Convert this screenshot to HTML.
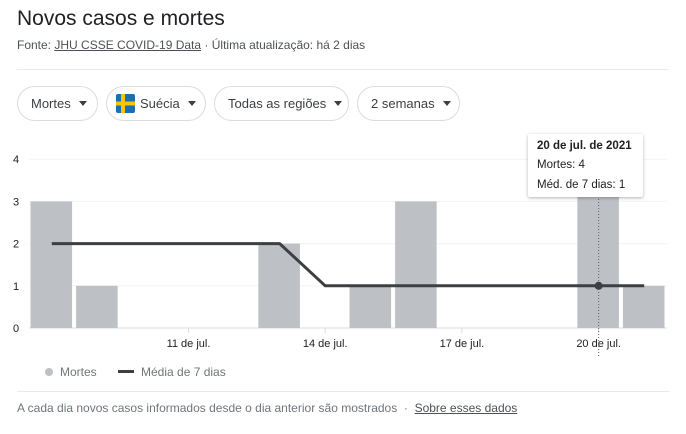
<!DOCTYPE html>
<html><head><meta charset="utf-8"><style>
body{margin:0;width:686px;height:434px;background:#fff;font-family:"Liberation Sans",Arial,sans-serif;position:relative;overflow:hidden;color:#202124}
.abs{position:absolute}
.chip{position:absolute;top:86px;border:1px solid #dadce0;border-radius:18px;font-size:13px;color:#3c4043;box-sizing:border-box;height:35px;display:flex;align-items:center;padding-left:13px}
.car{display:inline-block;width:0;height:0;border-left:4.5px solid transparent;border-right:4.5px solid transparent;border-top:5px solid #3c4043;margin-left:8px}
.hr{position:absolute;left:17px;width:652px;height:1px;background:#e8eaed}
</style></head><body>
<div class="abs" style="left:17px;top:7px;font-size:21px;color:#202124">Novos casos e mortes</div>
<div class="abs" style="left:17px;top:38px;font-size:12px;color:#4d5156">Fonte: <span style="text-decoration:underline;color:#4d5156">JHU CSSE COVID-19 Data</span> · Última atualização: há 2 dias</div>
<div class="hr" style="top:69px"></div>
<div class="chip" style="left:17px;width:81px">Mortes<span class="car"></span></div>
<div class="chip" style="left:106px;width:100px;padding-left:9px"><svg width="19" height="19" style="margin-right:5px"><rect width="19" height="19" rx="2" fill="#1a6fb5"/><rect x="5" width="4" height="19" fill="#f7c600"/><rect y="7.5" width="19" height="4" fill="#f7c600"/></svg>Suécia<span class="car"></span></div>
<div class="chip" style="left:214px;width:135px">Todas as regiões<span class="car"></span></div>
<div class="chip" style="left:357px;width:103px">2 semanas<span class="car"></span></div>
<svg id="chart" class="abs" style="left:0;top:0" width="686" height="434"></svg>
<div class="abs" style="left:528px;top:134px;width:115px;height:63px;background:#fff;box-shadow:0 1px 3px rgba(0,0,0,.3);border-radius:2px;font-size:11.5px;color:#202124">
<div style="position:absolute;left:9px;top:6px;font-weight:bold">20 de jul. de 2021</div>
<div style="position:absolute;left:9px;top:25px">Mortes: 4</div>
<div style="position:absolute;left:9px;top:45px">Méd. de 7 dias: 1</div>
</div>
<div class="abs" style="left:45px;top:365px;font-size:12px;color:#70757a"><span style="display:inline-block;width:8px;height:8px;border-radius:50%;background:#bdc1c6;margin-right:7px"></span>Mortes</div>
<div class="abs" style="left:118px;top:365px;font-size:12px;color:#70757a"><span style="display:inline-block;width:16px;height:3px;background:#3c4043;vertical-align:middle;margin-right:7px;position:relative;top:-1px"></span>Média de 7 dias</div>
<div class="hr" style="top:391px"></div>
<div class="abs" style="left:17px;top:401px;font-size:12px;color:#70757a">A cada dia novos casos informados desde o dia anterior são mostrados &nbsp;·&nbsp; <span style="text-decoration:underline;color:#4d5156">Sobre esses dados</span></div>
<script>
const days=[8,9,10,11,12,13,14,15,16,17,18,19,20,21];
const deaths=[3,1,0,0,0,2,0,1,3,0,0,0,4,1];
const avg7=[2,2,2,2,2,2,1,1,1,1,1,1,1,1];
const yTicks=[0,1,2,3,4];
const xTickDays=[11,14,17,20];
const xTickLabels=["11 de jul.","14 de jul.","17 de jul.","20 de jul."];
const NS="http://www.w3.org/2000/svg";
const svg=document.getElementById('chart');
const x0=29,x1=667,y0=328,unit=42.2;
const slot=(x1-x0)/days.length;
const xc=d=>x0+(days.indexOf(d)+0.5)*slot;
const y=v=>y0-v*unit;
function mk(t,a){const e=document.createElementNS(NS,t);for(const k in a)e.setAttribute(k,a[k]);svg.appendChild(e);return e;}
yTicks.forEach(v=>{
 const l=mk('line',{x1:x0,x2:x1,y1:y(v),y2:y(v),stroke:v===0?'#dadce0':'#f1f3f4','stroke-width':1});
 
 
 const t=mk('text',{x:16,y:y(v)+4,'font-size':11,fill:'#202124','text-anchor':'middle'});
 t.textContent=v;
 
 
});
days.forEach((d,i)=>{
 if(!deaths[i])return;
 const r=mk('rect',{x:xc(d)-slot/2+1.5,y:y(deaths[i]),width:slot-4,height:deaths[i]*unit,fill:'#bdc1c6'});
 
 
});
xTickDays.forEach((d,i)=>{
 const l=mk('line',{x1:xc(d),x2:xc(d),y1:y0,y2:y0+5,stroke:'#dadce0'});
 
 
 const t=mk('text',{x:xc(d),y:y0+19,'font-size':11,fill:'#202124','text-anchor':'middle'});
 t.textContent=xTickLabels[i];
 
 
});
const p=mk('polyline',{points:days.map((d,i)=>xc(d)+','+y(avg7[i])).join(' '),fill:'none',stroke:'#3c4043','stroke-width':3});


const hd=20,hi=days.indexOf(hd);
const vl=mk('line',{x1:xc(hd),x2:xc(hd),y1:190,y2:357,stroke:'#5f6368','stroke-dasharray':'1,2'});


const c=mk('circle',{cx:xc(hd),cy:y(avg7[hi]),r:4,fill:'#3c4043'});


</script>
</body></html>
